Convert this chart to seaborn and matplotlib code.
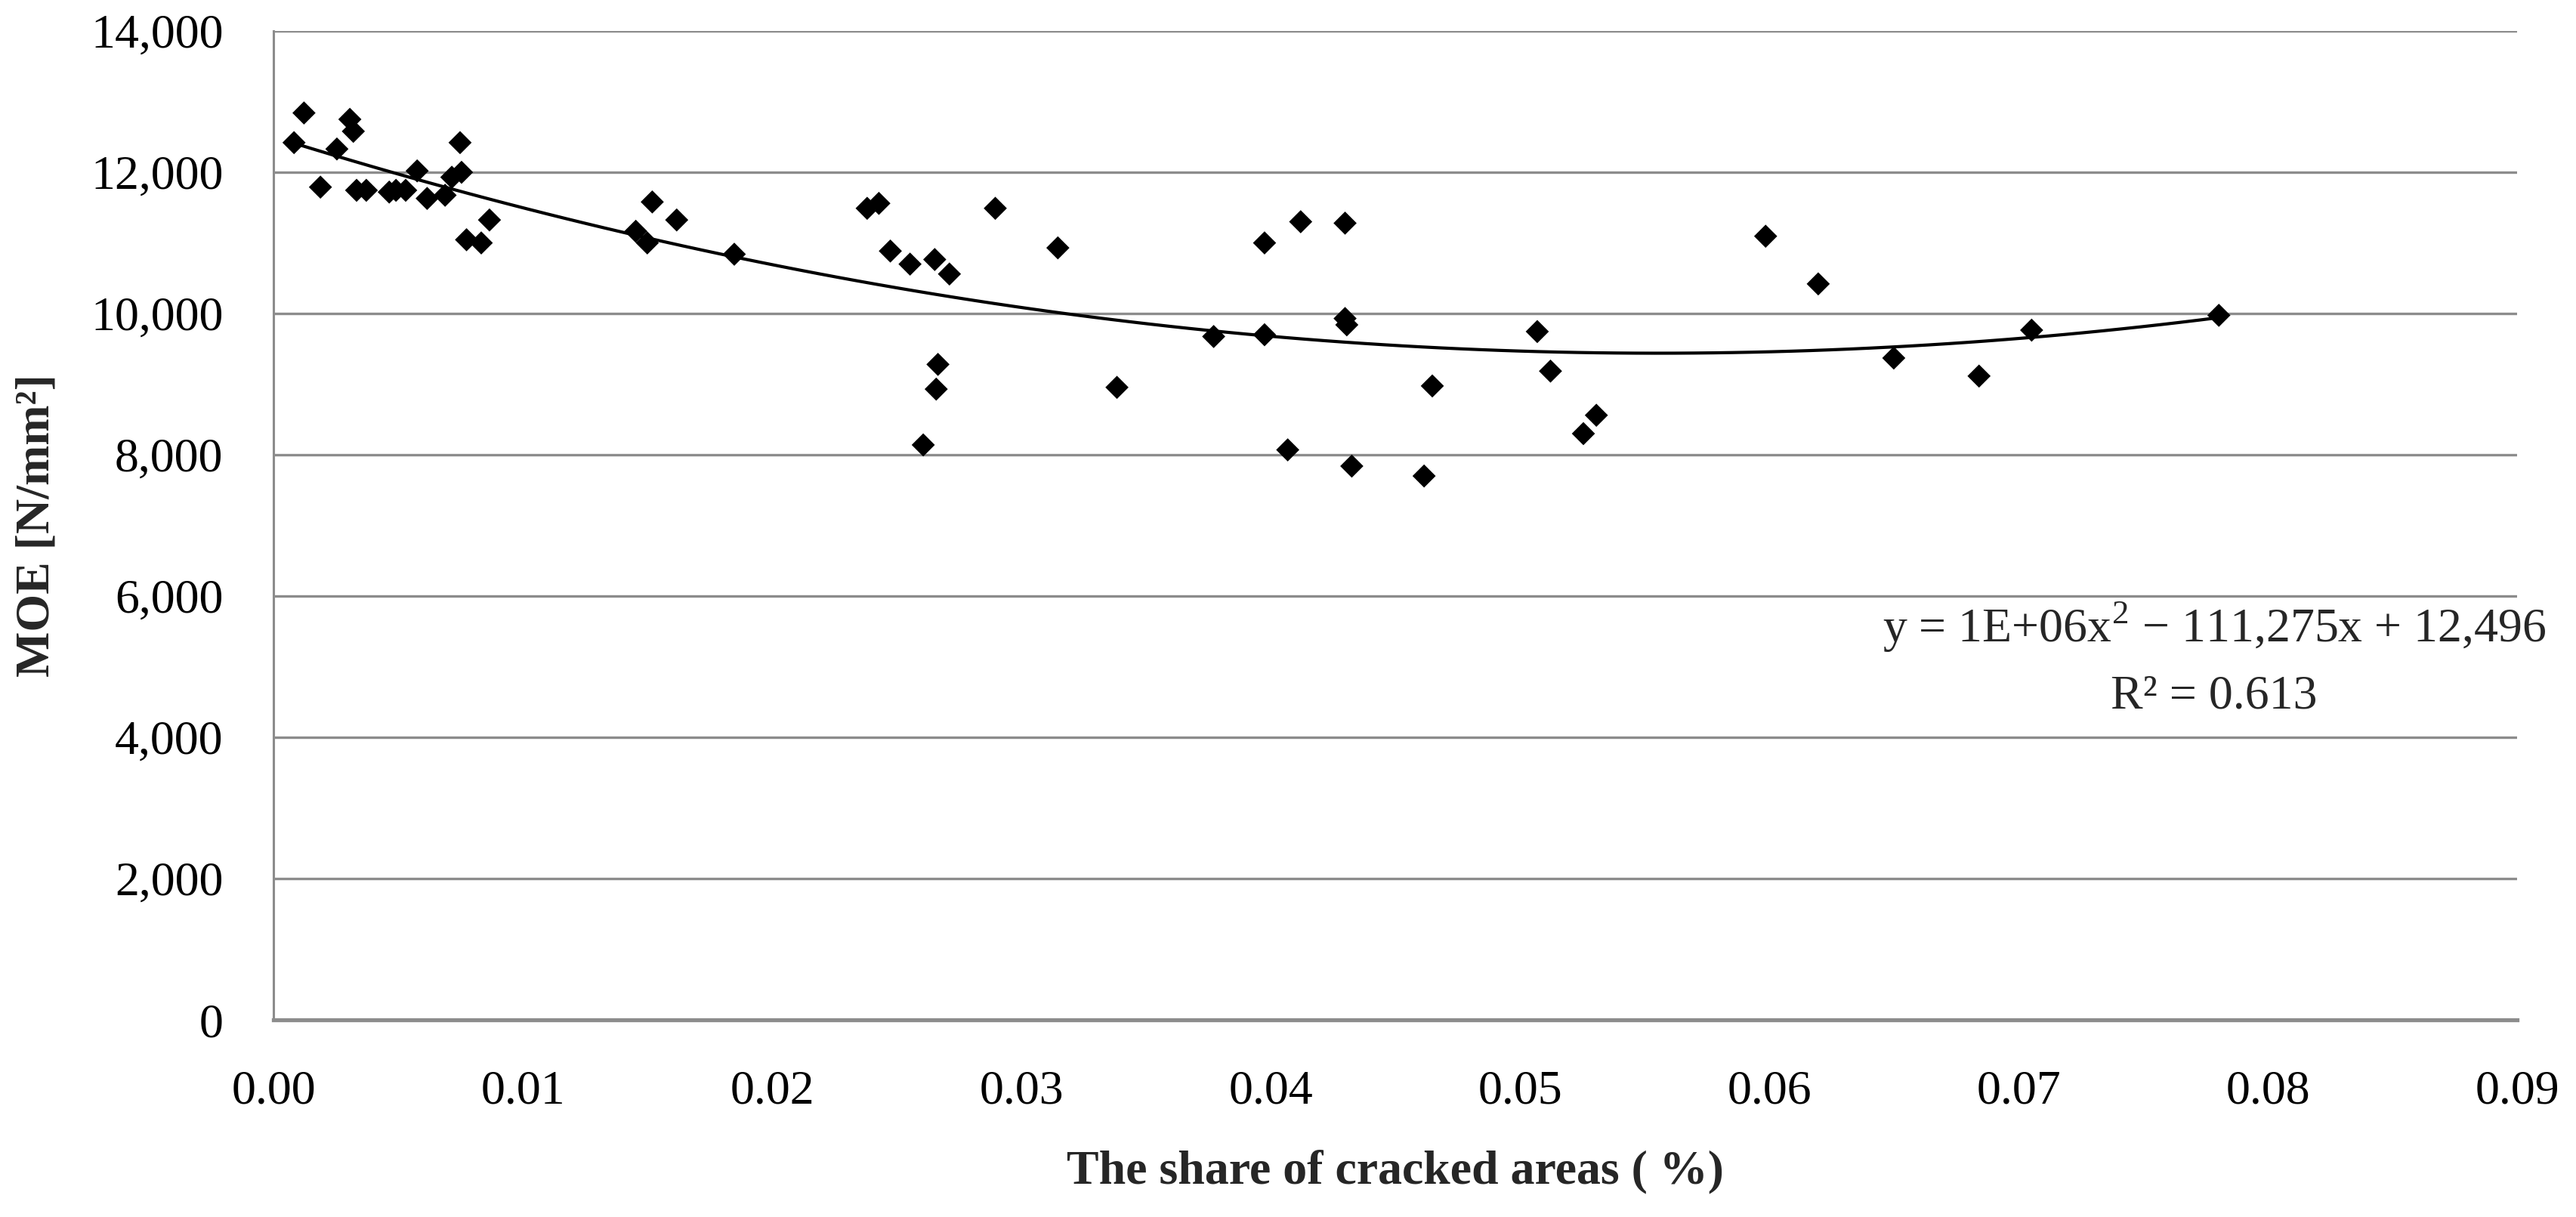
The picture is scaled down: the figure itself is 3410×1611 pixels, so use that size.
import numpy as np
import matplotlib
matplotlib.use("Agg")
import matplotlib.pyplot as plt
import seaborn as sns
from matplotlib.ticker import FuncFormatter

# ==========================================================
# DATA
# ==========================================================

share = [
    0.00082, 0.00122, 0.00188, 0.00254, 0.00306, 0.00320, 0.00333, 0.00372,
    0.00464, 0.00491, 0.00530, 0.00576, 0.00616, 0.00688, 0.00715, 0.00748,
    0.00754, 0.00774, 0.00833, 0.00866, 0.01453, 0.01499, 0.01519, 0.01617,
    0.01848, 0.02381, 0.02428, 0.02474, 0.02553, 0.02652, 0.02711, 0.02606,
    0.02665, 0.02658, 0.02895, 0.03146, 0.03383, 0.03771, 0.03975, 0.03975,
    0.04068, 0.04120, 0.04298, 0.04298, 0.04305, 0.04325, 0.04615, 0.04648,
    0.05069, 0.05122, 0.05254, 0.05306, 0.05985, 0.06196, 0.06499, 0.06841,
    0.07052, 0.07803,
]

moe = [
    12420, 12840, 11790, 12330, 12750, 12580, 11745, 11745,
    11720, 11745, 11745, 12020, 11630, 11675, 11930, 12420,
    12000, 11045, 11000, 11325, 11165, 11000, 11580, 11325,
    10840, 11490, 11560, 10885, 10700, 10765, 10560, 8140,
    9280, 8930, 11490, 10930, 8955, 9675, 11000, 9700,
    8070, 11300, 11280, 9930, 9840, 7840, 7700, 8975,
    9745, 9185, 8300, 8560, 11095, 10420, 9370, 9115,
    9765, 9975,
]

y_ticks = [0, 2000, 4000, 6000, 8000, 10000, 12000, 14000]
x_ticks = [0.00, 0.01, 0.02, 0.03, 0.04, 0.05, 0.06, 0.07, 0.08, 0.09]

equation_text = "y = 1E+06x$^2$ \u2212 111,275x + 12,496"
r2_text = "R\u00b2 = 0.613"

# ==========================================================
# STYLE
# ==========================================================

sns.set_theme(style="white")
plt.rcParams["font.family"] = ["Liberation Serif", "DejaVu Serif"]
plt.rcParams["mathtext.fontset"] = "custom"
plt.rcParams["mathtext.rm"] = "Liberation Serif"

grid_color = "#8c8c8c"
font_size = 23

fig = plt.figure(figsize=(17.05, 8.055), dpi=200)
ax = fig.add_axes([0.1062, 0.162, 0.8710, 0.8125])

# ==========================================================
# PLOT
# ==========================================================

diamond = [(0, 1), (1, 0), (0, -1), (-1, 0), (0, 1)]

sns.scatterplot(
    x=share,
    y=moe,
    marker=diamond,
    s=122,
    color="black",
    edgecolor="none",
    ax=ax,
    zorder=3
)

# second order trend line (same as the Excel polynomial trendline)
sns.regplot(
    x=share,
    y=moe,
    order=2,
    ci=None,
    scatter=False,
    truncate=True,
    color="black",
    line_kws={"linewidth": 1.5},
    ax=ax
)

ax.set_xlim(0, 0.09)
ax.set_ylim(0, 14000)
ax.set_xticks(x_ticks)
ax.set_yticks(y_ticks)
ax.xaxis.set_major_formatter(FuncFormatter(lambda v, p: f"{v:.2f}"))
ax.yaxis.set_major_formatter(FuncFormatter(lambda v, p: f"{v:,.0f}"))

ax.grid(axis="y", color=grid_color, linewidth=1.2)
ax.grid(axis="x", visible=False)
ax.set_axisbelow(True)

for side in ["top", "right"]:
    ax.spines[side].set_visible(False)
ax.spines["left"].set_color(grid_color)
ax.spines["left"].set_linewidth(1.1)
ax.spines["bottom"].set_color(grid_color)
ax.spines["bottom"].set_linewidth(1.9)

ax.tick_params(axis="both", length=0, labelsize=font_size, colors="black")
ax.tick_params(axis="y", pad=24)
ax.tick_params(axis="x", pad=24)

ax.set_xlabel("The share of cracked areas ( %)", fontsize=font_size,
              fontweight="bold", labelpad=17)
ax.set_ylabel("MOE [N/mm\u00b2]", fontsize=font_size,
              fontweight="bold", labelpad=15)

fig.text(0.8595, 0.4724, equation_text, fontsize=font_size,
         ha="center", va="baseline")
fig.text(0.8595, 0.4178, r2_text, fontsize=font_size,
         ha="center", va="baseline")

fig.savefig("out.png", dpi=200, facecolor="white")
